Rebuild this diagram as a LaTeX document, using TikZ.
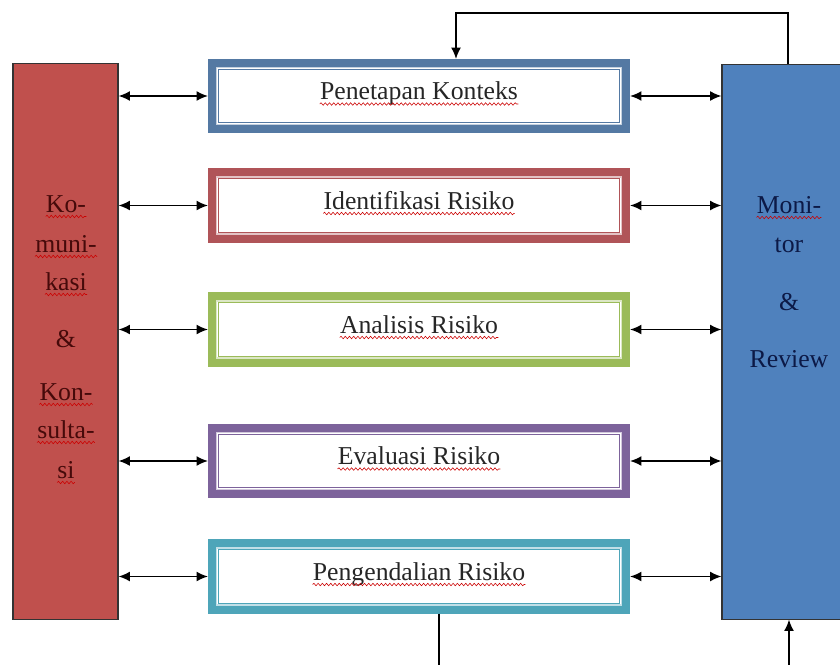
\documentclass[tikz,border=0pt]{standalone}
\usepackage{fontspec}
\setmainfont{Liberation Serif}
\usetikzlibrary{arrows.meta,decorations.pathmorphing}
\definecolor{merahkiri}{RGB}{192,80,77}
\definecolor{birukanan}{RGB}{79,129,189}
\definecolor{biruA}{RGB}{84,121,163}
\definecolor{merahB}{RGB}{176,84,88}
\definecolor{hijauC}{RGB}{155,187,89}
\definecolor{unguD}{RGB}{125,99,155}
\definecolor{tosaE}{RGB}{78,165,185}
\definecolor{teksmerah}{RGB}{70,10,10}
\definecolor{teksbiru}{RGB}{12,25,70}
\begin{document}
\begin{tikzpicture}[x=0.025cm, y=-0.025cm, font=\fontsize{18.3}{22}\selectfont, line join=miter, >={Latex[length=8pt,width=7pt]},
	tahapbox/.style={draw, line width=5.5pt, fill=white, minimum width=10.36cm, minimum height=1.66cm, inner sep=0pt},
	kolom/.style={draw=black!80, line width=0.8pt, inner sep=0pt},
	teks/.style={inner sep=0pt, anchor=base},
	panah/.style={<->, line width=1pt},
	squiggle/.style={red!80!black, line width=0.4pt, decorate, decoration={snake, amplitude=0.9pt, segment length=3pt}}]
			\useasboundingbox (0,0) rectangle (840,664);
			\node[kolom, fill=merahkiri, minimum width=2.625cm, minimum height=13.875cm] (kom) at (65.5,341.5) {};
			\node[kolom, fill=birukanan, minimum width=3.35cm, minimum height=13.85cm] (mon) at (789,342) {};
			\newcommand{\tahap}[4]{
				\node[tahapbox, draw=#3] (#1) at (419,#2) {};
				\draw[#3!35, line width=1pt] ([shift={(6.1pt,-6.1pt)}]#1.north west) rectangle ([shift={(-6.1pt,6.1pt)}]#1.south east);
				\draw[#3, line width=0.6pt] ([shift={(7.3pt,-7.3pt)}]#1.north west) rectangle ([shift={(-7.3pt,7.3pt)}]#1.south east);
				\node[teks, text=black!85] (#1-t) at ([yshift=-2.5pt]#1.center) {#4};
				\draw[squiggle] ([yshift=-3.2pt]#1-t.base west) -- ([yshift=-3.2pt]#1-t.base east);
				\draw[panah] (kom.east |- #1.west) -- (#1.west);
				\draw[panah] (#1.east) -- (mon.west |- #1.east);
			}
			\tahap{pk}{96}{biruA}{Penetapan Konteks}
			\tahap{ir}{205.5}{merahB}{Identifikasi Risiko}
			\tahap{ar}{329.5}{hijauC}{Analisis Risiko}
			\tahap{er}{461}{unguD}{Evaluasi Risiko}
			\tahap{pr}{576.5}{tosaE}{Pengendalian Risiko}
			% teks kolom kiri
			\foreach \baris/\yy/\nama in {Ko-/212/k1, muni-/252/k2, kasi/290/k3, Kon-/400/k5, sulta-/438/k6, si/478/k7}{
				\node[teks, text=teksmerah] (\nama) at (66,\yy) {\baris};
				\draw[squiggle] ([yshift=-3.2pt]\nama.base west) -- ([yshift=-3.2pt]\nama.base east);
			}
			\node[teks, text=teksmerah] (k4) at (66,347) {\&};
			% teks kolom kanan
			\node[teks, text=teksbiru] (m1) at (789,213) {Moni-};
			\draw[squiggle] ([yshift=-3.2pt]m1.base west) -- ([yshift=-3.2pt]m1.base east);
			\node[teks, text=teksbiru] (m2) at (789,252) {tor};
			\node[teks, text=teksbiru] (m3) at (789,310) {\&};
			\node[teks, text=teksbiru] (m4) at (789,367) {Review};
			% umpan balik
			\coordinate (atas1) at (788,13);
			\coordinate (atas2) at (456,13);
			\draw[->, line width=1pt] (atas1 |- mon.north) -- (atas1) -- (atas2) -- (atas2 |- pk.north);
			\coordinate (bawah1) at (439,700);
			\coordinate (bawah2) at (789,700);
			\draw[->, line width=1pt] (bawah1 |- pr.south) -- (bawah1) -- (bawah2) -- (bawah2 |- mon.south);
		\end{tikzpicture}
\end{document}
